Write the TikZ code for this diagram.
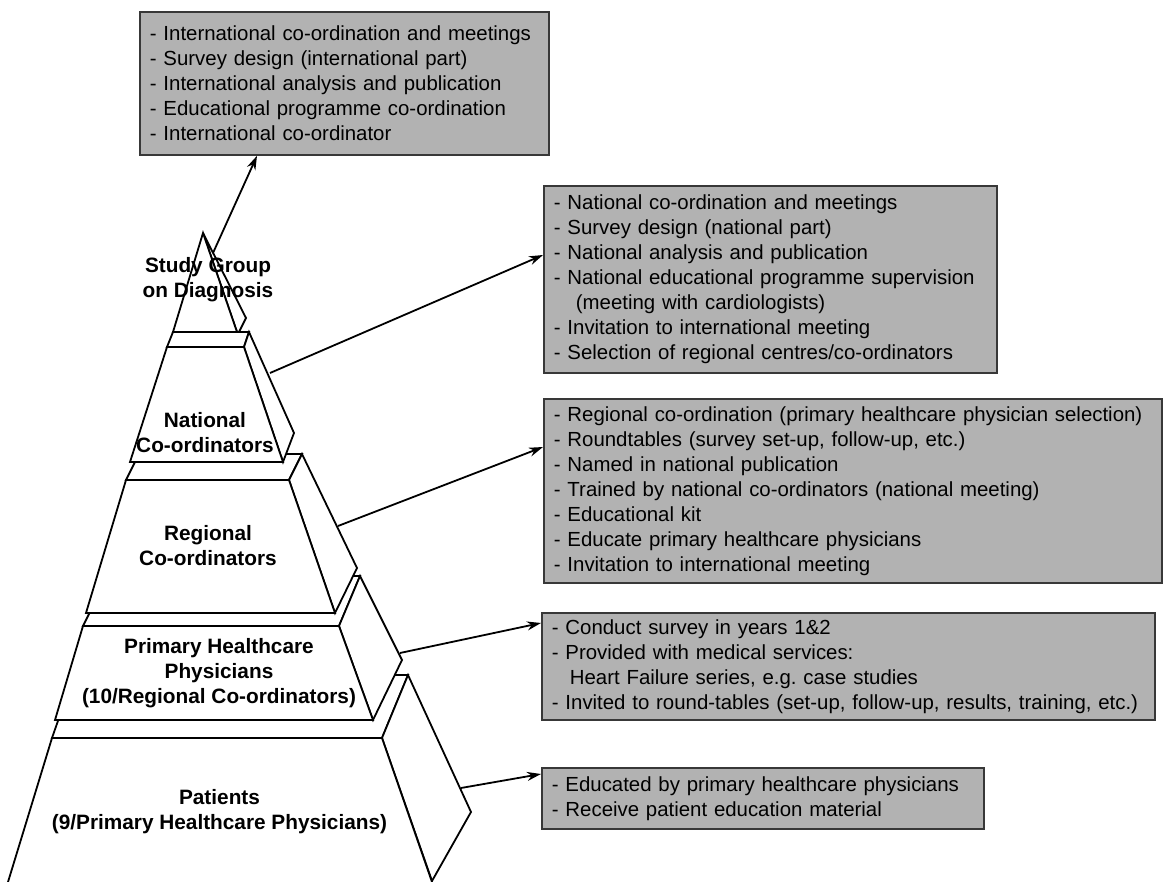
\documentclass[tikz,border=0pt]{standalone}
\usepackage{fontspec}
\setmainfont{Liberation Sans}
\frenchspacing
\definecolor{boxgray}{gray}{0.70}
\definecolor{edgegray}{gray}{0.22}
\usetikzlibrary{arrows.meta,calc,positioning}
\tikzset{
	face/.style={
		draw=black,
		fill=white,
		line width=0.9pt,
		line join=miter
	},
	level/.style={
		font=\fontsize{10.4}{12.5}\selectfont\bfseries,
		align=center
	},
	task/.style={
		rectangle,
		draw=edgegray,
		fill=boxgray,
		line width=0.9pt,
		anchor=north west,
		inner xsep=5pt,
		inner ysep=0pt,
		align=left,
		font=\fontsize{10.2}{12.5}\selectfont
	},
	arrow/.style={
		draw=black,
		line width=0.9pt,
		-{Stealth[length=7pt,width=4.5pt]}
	}
}

\begin{document}
\begin{tikzpicture}[x=0.5pt,y=-0.5pt]
			\useasboundingbox (0,0) rectangle (1163,882);
			% patients
			\filldraw[face] (74,675) -- (408,675) -- (382,738) -- (52,738) -- cycle;
			\filldraw[face] (408,675) -- (471,812) -- (432,881) -- (382,738) -- cycle;
			\fill[white] (52,738) -- (382,738) -- (432,882) -- (8,882) -- cycle;
			\draw[face] (8,882) -- (52,738) -- (382,738) -- (432,882);
			% primary healthcare physicians
			\filldraw[face] (108,576) -- (360,576) -- (339,626) -- (83,626) -- cycle;
			\filldraw[face] (360,576) -- (402,660) -- (373,720) -- (339,626) -- cycle;
			\filldraw[face] (83,626) -- (55,720) -- (373,720) -- (339,626) -- cycle;
			% regional
			\filldraw[face] (139,454) -- (302,454) -- (289,480) -- (126,480) -- cycle;
			\filldraw[face] (302,454) -- (357,568) -- (335,613) -- (289,480) -- cycle;
			\filldraw[face] (126,480) -- (86,613) -- (335,613) -- (289,480) -- cycle;
			% national
			\filldraw[face] (173,332) -- (249,332) -- (244,347) -- (167,347) -- cycle;
			\filldraw[face] (249,332) -- (294,433) -- (283,462) -- (244,347) -- cycle;
			\filldraw[face] (167,347) -- (130,462) -- (283,462) -- (244,347) -- cycle;
			% study group
			\filldraw[face] (203,233) -- (246,318) -- (239,332) -- (237,332) -- cycle;
			\filldraw[face] (203,233) -- (173,332) -- (237,332) -- cycle;

			\node[level] (study) at (208,280) {Study Group\\on Diagnosis};
			\node[level] (national) at (205,433) {National\\Co-ordinators};
			\node[level] (regional) at (208,546) {Regional\\Co-ordinators};
			\node[level] (primary) at (219,673) {Primary Healthcare\\Physicians\\(10/Regional Co-ordinators)};
			\node[level] (patients) at (219.5,812) {Patients\\(9/Primary Healthcare Physicians)};

			\node[task,text width=194.5pt,minimum height=71.5pt] (intbox) at (139,11) {%
				- International co-ordination and meetings\\
				- Survey design (international part)\\
				- International analysis and publication\\
				- Educational programme co-ordination\\
				- International co-ordinator};
			\node[task,text width=216.5pt,minimum height=93.5pt] (natbox) at (543,185) {%
				- National co-ordination and meetings\\
				- Survey design (national part)\\
				- National analysis and publication\\
				- National educational programme supervision\\
				\hspace*{11pt}(meeting with cardiologists)\\
				- Invitation to international meeting\\
				- Selection of regional centres/co-ordinators};
			\node[task,text width=299pt,minimum height=92pt] (regbox) at (543,398) {%
				- Regional co-ordination (primary healthcare physician selection)\\
				- Roundtables (survey set-up, follow-up, etc.)\\
				- Named in national publication\\
				- Trained by national co-ordinators (national meeting)\\
				- Educational kit\\
				- Educate primary healthcare physicians\\
				- Invitation to international meeting};
			\node[task,text width=296.5pt,minimum height=53.5pt] (phcbox) at (541,612) {%
				- Conduct survey in years 1\&2\\
				- Provided with medical services:\\
				\hspace*{9pt}Heart Failure series, e.g. case studies\\
				- Invited to round-tables (set-up, follow-up, results, training, etc.)};
			\node[task,text width=211pt,minimum height=30.5pt] (patbox) at (541,767) {%
				- Educated by primary healthcare physicians\\
				- Receive patient education material};

			\coordinate (studyside) at (213,253);
			\coordinate (natside) at (270,373);
			\coordinate (regside) at (338,526);
			\coordinate (phcside) at (400,653);
			\coordinate (patside) at (461,788);
			\draw[arrow] (studyside) -- ($(intbox.south west)+(118,0)$);
			\draw[arrow] (natside) -- ($(natbox.north west)+(0,70)$);
			\draw[arrow] (regside) -- ($(regbox.north west)+(0,49)$);
			\draw[arrow] (phcside) -- ($(phcbox.north west)+(0,11)$);
			\draw[arrow] (patside) -- ($(patbox.north west)+(0,7)$);
\end{tikzpicture}
\end{document}
